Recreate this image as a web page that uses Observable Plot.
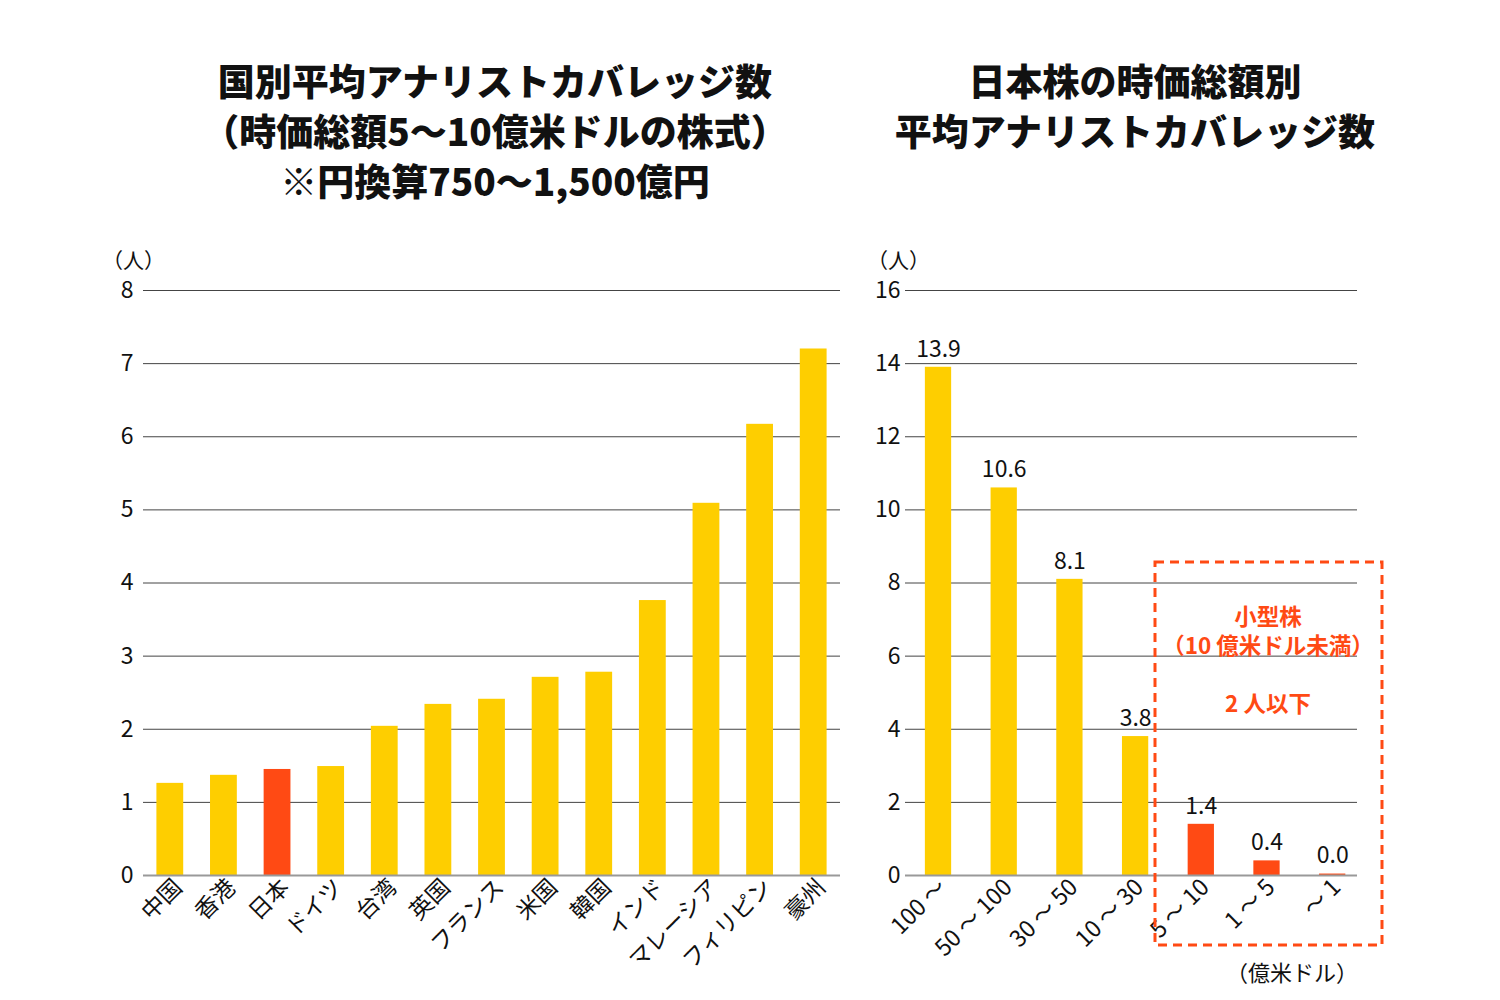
<!DOCTYPE html>
<html>
<head>
<meta charset="utf-8">
<script src="https://cdn.jsdelivr.net/npm/d3@7"></script>
<script src="https://cdn.jsdelivr.net/npm/@observablehq/plot@0.6"></script>
<style>
  html, body { margin: 0; padding: 0; background: #fff; }
  body { width: 1500px; height: 1000px; position: relative; overflow: hidden;
         font-family: "Noto Sans CJK JP", "Noto Sans", sans-serif; color: #111; }
  .title { position: absolute; font-weight: 900; font-size: 37px; line-height: 50px; text-align: center; color: #111; }
  .abs { position: absolute; }
  .unit { position: absolute; font-size: 21px; color: #111; line-height: 22px; }
  .note { position: absolute; font-size: 22.5px; font-weight: 700; color: #FF4A14; text-align: center; line-height: 24px; white-space: nowrap; }
</style>
</head>
<body>
<div class="title" style="left:95px; top:55px; width:800px;">国別平均アナリストカバレッジ数<br>（時価総額5〜10億米ドルの株式）<br>※円換算750〜1,500億円</div>
<div class="title" style="left:835px; top:55px; width:600px;">日本株の時価総額別<br>平均アナリストカバレッジ数</div>
<div class="unit" style="left:102px; top:248px;">（人）</div>
<div class="unit" style="left:867px; top:248px;">（人）</div>
<div id="left" class="abs" style="left:0px; top:260px;"></div>
<div id="right" class="abs" style="left:860px; top:260px;"></div>
<svg class="abs" style="left:0; top:0;" width="1500" height="1000" id="overlay"></svg>
<div class="note" style="left:1148px; top:603px; width:240px;">小型株</div>
<div class="note" style="left:1148px; top:632px; width:240px;">（10 億米ドル未満）</div>
<div class="note" style="left:1148px; top:690px; width:240px;">2 人以下</div>
<div class="unit" style="left:1226px; top:960px; font-size:22px;">（億米ドル）</div>
<script>
// ---- Left chart data ----
const leftCategories = ["中国","香港","日本","ドイツ","台湾","英国","フランス","米国","韓国","インド","マレーシア","フィリピン","豪州"];
const leftValues = [1.26, 1.37, 1.45, 1.49, 2.04, 2.34, 2.41, 2.71, 2.78, 3.76, 5.09, 6.17, 7.20];
const leftHighlight = "日本";
const leftTicks = [0,1,2,3,4,5,6,7,8];

// ---- Right chart data ----
const rightCategories = ["100 ～","50 ～ 100","30 ～ 50","10 ～ 30","5 ～ 10","1 ～ 5","～ 1"];
const rightValues = [13.9, 10.6, 8.1, 3.8, 1.4, 0.4, 0.04];
const rightSmall = ["5 ～ 10","1 ～ 5","～ 1"];
const rightTicks = [0,2,4,6,8,10,12,14,16];

const YELLOW = "#FECE00";
const RED = "#FF4A14";
const FONT = "'Noto Sans CJK JP', 'Noto Sans', sans-serif";

const leftData = leftCategories.map((c, i) => ({cat: c, val: leftValues[i]}));
const rightData = rightCategories.map((c, i) => ({cat: c, val: rightValues[i]}));

const left = Plot.plot({
  width: 860, height: 720,
  marginLeft: 143, marginRight: 20, marginTop: 30, marginBottom: 105,
  style: {fontFamily: FONT, fontSize: "23px", color: "#111", background: "transparent"},
  x: {domain: leftCategories, paddingInner: 0.5, paddingOuter: 0.25, round: false, label: null},
  y: {domain: [0, 8], label: null},
  marks: [
    Plot.ruleY(leftTicks.filter(t => t > 0), {stroke: "#444", strokeWidth: 1}),
    Plot.barY(leftData, {x: "cat", y: "val", fill: d => d.cat === leftHighlight ? RED : YELLOW}),
    Plot.ruleY([0], {stroke: "#999", strokeWidth: 2}),
    Plot.axisY({ticks: leftTicks, tickSize: 0, tickPadding: 10, label: null, fontSize: 23}),
    Plot.axisX({tickSize: 0, tickRotate: -45, tickPadding: 8, label: null, fontSize: 23, dx: 8})
  ]
});
document.getElementById("left").appendChild(left);

const right = Plot.plot({
  width: 520, height: 720,
  marginLeft: 45, marginRight: 23, marginTop: 30, marginBottom: 105,
  style: {fontFamily: FONT, fontSize: "23px", color: "#111", background: "transparent"},
  x: {domain: rightCategories, paddingInner: 0.6, paddingOuter: 0.24, align: 0.63, round: false, label: null},
  y: {domain: [0, 16], label: null},
  marks: [
    Plot.ruleY(rightTicks.filter(t => t > 0), {stroke: "#444", strokeWidth: 1}),
    Plot.barY(rightData, {x: "cat", y: "val", fill: d => rightSmall.includes(d.cat) ? RED : YELLOW}),
    Plot.ruleY([0], {stroke: "#999", strokeWidth: 2}),
    Plot.text(rightData, {x: "cat", y: "val", text: d => d3.format(".1f")(d.val), dy: -18, fontSize: 23, fill: "#111"}),
    Plot.axisY({ticks: rightTicks, tickSize: 0, tickPadding: 5, label: null, fontSize: 23}),
    Plot.axisX({tickSize: 0, tickRotate: -45, tickPadding: 8, label: null, fontSize: 23, dx: 4})
  ]
});
document.getElementById("right").appendChild(right);

// dashed highlight box
const ov = d3.select("#overlay");
ov.append("rect")
  .attr("x", 1155).attr("y", 562).attr("width", 227).attr("height", 383)
  .attr("fill", "none").attr("stroke", RED).attr("stroke-width", 3)
  .attr("stroke-dasharray", "9 6");
</script>
</body>
</html>
